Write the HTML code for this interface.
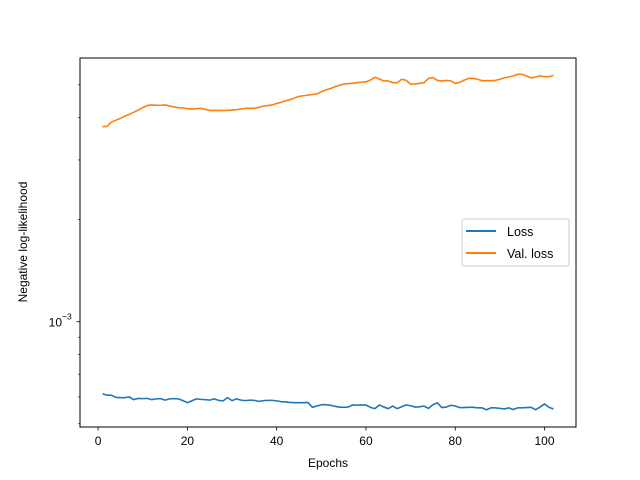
<!DOCTYPE html>
<html><head><meta charset="utf-8"><style>
body{margin:0;background:#fff;}
svg{display:block;font-family:"Liberation Sans","DejaVu Sans",sans-serif;}
</style></head><body>
<svg id="chart" width="640" height="480" viewBox="0 0 640 480" xmlns="http://www.w3.org/2000/svg">
<rect width="640" height="480" fill="#fff"/>
<g id="plot"></g>
<rect x="80" y="58" width="496" height="369" fill="none" stroke="#000" stroke-width="1"/>
<text x="328" y="467" font-size="12" text-anchor="middle">Epochs</text>
<text x="27" y="242" font-size="12" text-anchor="middle" transform="rotate(-90 27 242)">Negative log-likelihood</text>
<g>
<rect x="462" y="219" width="107" height="47" rx="2" fill="#fff" stroke="#ccc"/>
<line x1="466" y1="231" x2="496" y2="231" stroke="#1f77b4" stroke-width="2"/>
<text x="507" y="236" font-size="12.5">Loss</text>
<line x1="466" y1="253" x2="496" y2="253" stroke="#ff7f0e" stroke-width="2"/>
<text x="507" y="258" font-size="12.5">Val. loss</text>
</g>
</svg>
<script>
const epochs = Array.from({length:102},(_,i)=>i+1);
const lossVals = [6.13,6.07,6.07,5.98,5.97,5.97,6.00,5.89,5.94,5.93,5.94,5.89,5.92,5.93,5.87,5.92,5.93,5.92,5.85,5.77,5.84,5.92,5.90,5.89,5.87,5.92,5.86,5.84,5.97,5.85,5.92,5.87,5.85,5.87,5.86,5.82,5.85,5.86,5.86,5.84,5.81,5.80,5.78,5.77,5.77,5.77,5.78,5.59,5.64,5.69,5.69,5.67,5.63,5.60,5.59,5.60,5.68,5.67,5.68,5.68,5.59,5.54,5.68,5.60,5.54,5.64,5.54,5.61,5.68,5.65,5.60,5.61,5.64,5.55,5.69,5.76,5.58,5.60,5.67,5.64,5.58,5.58,5.59,5.59,5.57,5.57,5.50,5.57,5.57,5.55,5.53,5.57,5.51,5.57,5.57,5.58,5.59,5.50,5.60,5.72,5.59,5.53].map(v=>v*1e-4);
const valLossVals = [3.76,3.77,3.88,3.93,3.98,4.04,4.09,4.15,4.21,4.28,4.34,4.36,4.35,4.35,4.36,4.33,4.30,4.28,4.27,4.25,4.24,4.25,4.26,4.23,4.20,4.20,4.20,4.20,4.20,4.21,4.22,4.24,4.26,4.26,4.26,4.29,4.32,4.34,4.36,4.40,4.44,4.48,4.52,4.57,4.62,4.64,4.66,4.68,4.70,4.77,4.83,4.87,4.93,4.98,5.02,5.04,5.05,5.07,5.09,5.10,5.16,5.26,5.20,5.13,5.13,5.07,5.07,5.19,5.15,5.02,5.03,5.05,5.07,5.22,5.25,5.15,5.13,5.15,5.13,5.05,5.08,5.16,5.22,5.22,5.19,5.14,5.14,5.14,5.15,5.19,5.24,5.27,5.31,5.37,5.37,5.30,5.24,5.27,5.31,5.28,5.28,5.33].map(v=>v*1e-3);
const xTicks = [0,20,40,60,80,100];
const yMinorTicks = [5e-4,6e-4,7e-4,8e-4,9e-4,2e-3,3e-3,4e-3,5e-3];
const yMajorTicks = [1e-3];

const X0=80,X1=576,Y0=58,Y1=427;
const xMin=-4.05,xMax=107.05;
function xs(v){return X0+(v-xMin)/(xMax-xMin)*(X1-X0);}
const yRef=321.7, decade=339;
function ys(v){return yRef-decade*Math.log10(v/1e-3);}

const NS="http://www.w3.org/2000/svg";
const g=document.getElementById('plot');
function mk(t,a){const e=document.createElementNS(NS,t);for(const k in a)e.setAttribute(k,a[k]);g.appendChild(e);return e;}

xTicks.forEach(t=>{
  const l=mk('line',{x1:xs(t),x2:xs(t),y1:Y1,y2:Y1+3.5,stroke:'#000','stroke-width':0.8});
  
  
  const tx=mk('text',{x:xs(t),y:Y1+18,'font-size':12,'text-anchor':'middle'});
  tx.textContent=t;
  
  
});
yMinorTicks.forEach(t=>{
  const l=mk('line',{x1:X0-2,x2:X0,y1:ys(t),y2:ys(t),stroke:'#000','stroke-width':0.6});
  
  
});
yMajorTicks.forEach(t=>{
  const l=mk('line',{x1:X0-3.5,x2:X0,y1:ys(t),y2:ys(t),stroke:'#000','stroke-width':0.8});
  
  
  const tx=mk('text',{x:X0-18,y:ys(t)+5,'font-size':12,'text-anchor':'end'});
  
  
  tx.textContent='10';
  const sup=mk('text',{x:X0-18,y:ys(t)-2,'font-size':8.5,'text-anchor':'start'});
  sup.textContent='\u22123';
  
  
});

function line(vals,color,name){
  const d=vals.map((v,i)=>(i?'L':'M')+xs(epochs[i]).toFixed(2)+' '+ys(v).toFixed(2)).join(' ');
  const p=mk('path',{d:d,fill:'none',stroke:color,'stroke-width':1.6,'stroke-linejoin':'round'});
  
  
}
line(lossVals,'#1f77b4','loss-line');
line(valLossVals,'#ff7f0e','val-loss-line');
</script>
</body></html>
